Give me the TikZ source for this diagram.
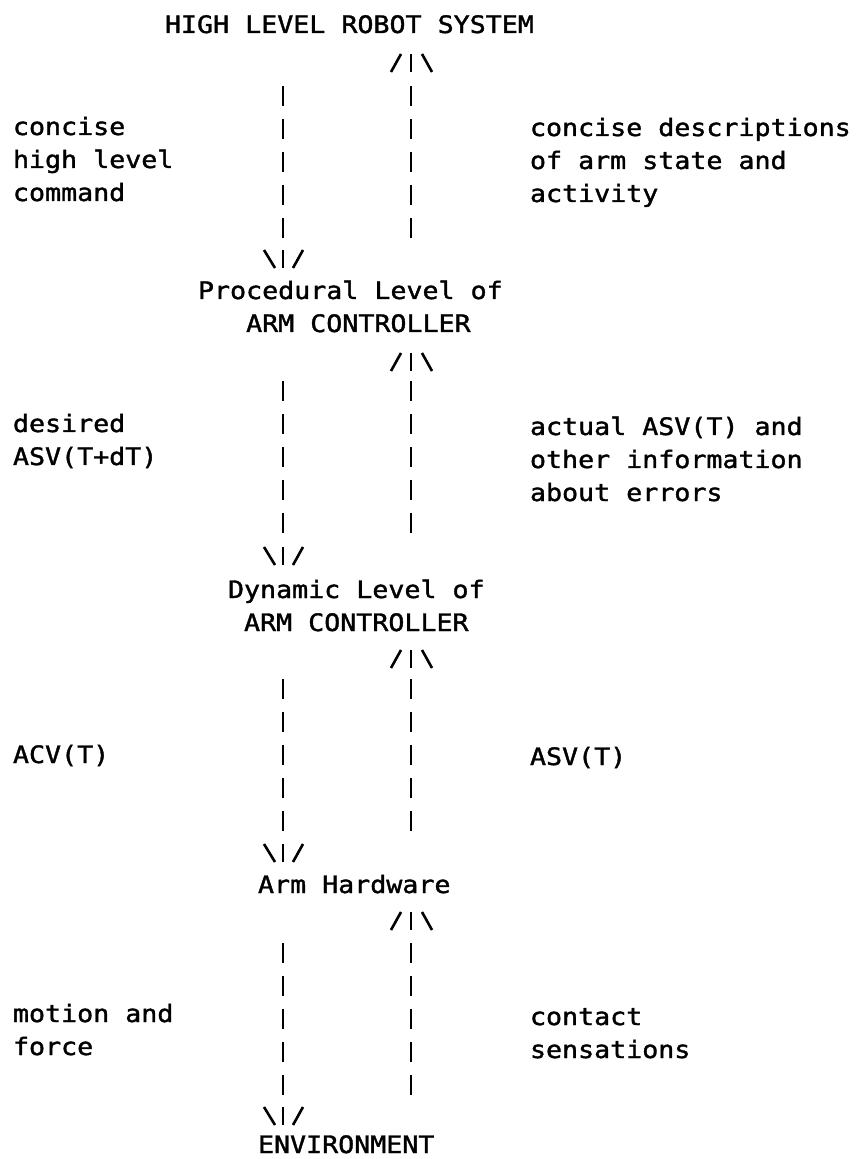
\documentclass[tikz,border=0pt]{standalone}
\usepackage{fontspec}
\newfontfamily\asciifont[FakeStretch=1.11,FakeBold=1.5]{DejaVu Sans Mono}
\begin{document}
\begin{tikzpicture}[x=0.5pt,y=-0.5pt,
  txt/.style={font=\asciifont\fontsize{12}{16.5}\selectfont, inner sep=0pt, outer sep=0pt, anchor=base west, align=left},
  shaft/.style={line width=1.3pt, dash pattern=on 10pt off 6.5pt},
  headstroke/.style={line width=1.3pt, line cap=butt},
  uphead/.pic={\draw[headstroke] (-20,9) -- (-10,-9); \draw[headstroke] (0,-9) -- (0,9); \draw[headstroke] (11,-9) -- (21,9);},
  downhead/.pic={\draw[headstroke] (-19,-9) -- (-8,9); \draw[headstroke] (0,-9) -- (0,9); \draw[headstroke] (20,-9) -- (10,9);}]
\useasboundingbox (0,0) rectangle (857,1159);
\fill[white] (0,0) rectangle (857,1159);
% level nodes (multi-line nodes are placed by the baseline of their last line)
\node[txt] (top)  at (165,33)   {HIGH LEVEL ROBOT SYSTEM};
\node[txt] (proc) at (198,332)  {Procedural Level of\\\ \ \ ARM CONTROLLER};
\node[txt] (dyn)  at (228,631)  {Dynamic Level of\\\ ARM CONTROLLER};
\node[txt] (hw)   at (258,893)  {Arm Hardware};
\node[txt] (env)  at (258,1153) {ENVIRONMENT};
% left labels
\node[txt] (l1) at (13,201)  {concise\\high level\\command};
\node[txt] (l2) at (13,465)  {desired\\ASV(T+dT)};
\node[txt] (l3) at (13,763)  {ACV(T)};
\node[txt] (l4) at (13,1055) {motion and\\force};
% right labels
\node[txt] (r1) at (530,202)  {concise descriptions\\of arm state and\\activity};
\node[txt] (r2) at (530,501)  {actual ASV(T) and\\other information\\about errors};
\node[txt] (r3) at (530,765)  {ASV(T)};
\node[txt] (r4) at (530,1058) {contact\\sensations};
% connector ends
\coordinate (s1Lt) at (283,86);   \coordinate (s1Lb) at (283,238);
\coordinate (s1Rt) at (411,86);   \coordinate (s1Rb) at (411,238);
\coordinate (s2Lt) at (283,381);  \coordinate (s2Lb) at (283,533);
\coordinate (s2Rt) at (411,381);  \coordinate (s2Rb) at (411,533);
\coordinate (s3Lt) at (283,679);  \coordinate (s3Lb) at (283,831);
\coordinate (s3Rt) at (411,679);  \coordinate (s3Rb) at (411,831);
\coordinate (s4Lt) at (283,943);  \coordinate (s4Lb) at (283,1095);
\coordinate (s4Rt) at (411,943);  \coordinate (s4Rb) at (411,1095);
% shafts
\draw[shaft] (s1Lt) -- (s1Lb);
\draw[shaft] (s1Rb) -- (s1Rt);
\draw[shaft] (s2Lt) -- (s2Lb);
\draw[shaft] (s2Rb) -- (s2Rt);
\draw[shaft] (s3Lt) -- (s3Lb);
\draw[shaft] (s3Rb) -- (s3Rt);
\draw[shaft] (s4Lt) -- (s4Lb);
\draw[shaft] (s4Rb) -- (s4Rt);
% heads
\pic at (411,63)   {uphead};
\pic at (283,259)  {downhead};
\pic at (411,362)  {uphead};
\pic at (283,556)  {downhead};
\pic at (411,659)  {uphead};
\pic at (283,853)  {downhead};
\pic at (411,921)  {uphead};
\pic at (283,1116) {downhead};
\end{tikzpicture}
\end{document}
